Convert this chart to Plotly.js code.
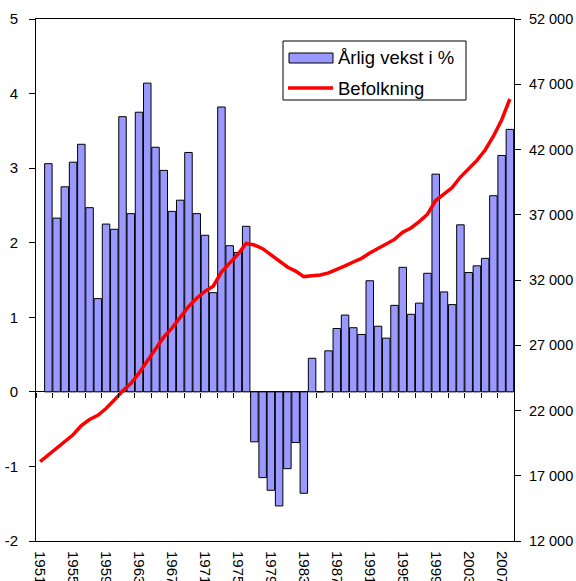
<!DOCTYPE html>
<html>
<head>
<meta charset="utf-8">
<script src="https://cdn.plot.ly/plotly-3.0.1.min.js"></script>
<style>html,body{margin:0;padding:0;background:#fff;}#chart{width:576px;height:581px;}</style>
</head>
<body>
<div id="chart"></div>
<script>
const years = ['1951','1952','1953','1954','1955','1956','1957','1958','1959','1960',
  '1961','1962','1963','1964','1965','1966','1967','1968','1969','1970',
  '1971','1972','1973','1974','1975','1976','1977','1978','1979','1980',
  '1981','1982','1983','1984','1985','1986','1987','1988','1989','1990',
  '1991','1992','1993','1994','1995','1996','1997','1998','1999','2000',
  '2001','2002','2003','2004','2005','2006','2007','2008'];

const growthPct = [null, 3.06, 2.33, 2.75, 3.08, 3.32, 2.47, 1.25, 2.25, 2.18,
  3.69, 2.39, 3.75, 4.14, 3.28, 2.97, 2.42, 2.57, 3.21, 2.39,
  2.10, 1.33, 3.82, 1.96, 1.87, 2.22, -0.67, -1.15, -1.32, -1.53,
  -1.03, -0.68, -1.36, 0.45, 0, 0.55, 0.85, 1.03, 0.86, 0.77,
  1.49, 0.88, 0.72, 1.16, 1.67, 1.04, 1.19, 1.59, 2.92, 1.34,
  1.17, 2.24, 1.60, 1.69, 1.79, 2.63, 3.17, 3.52];

const population = [18090, 18610, 19100, 19570, 20140, 20850, 21310, 21630, 22150, 22800,
  23490, 24070, 24860, 25790, 26740, 27620, 28310, 29100, 29960, 30600,
  31130, 31530, 32610, 33290, 33970, 34800, 34680, 34400, 33930, 33420,
  33000, 32680, 32260, 32320, 32380, 32540, 32790, 33090, 33380, 33660,
  34070, 34430, 34740, 35110, 35660, 35990, 36470, 37040, 38090, 38620,
  39080, 39890, 40510, 41160, 41960, 43020, 44260, 45870];

const xTickYears = ['1951','1955','1959','1963','1967','1971','1975','1979','1983','1987','1991','1995','1999','2003','2007'];
const leftTicks = [-2, -1, 0, 1, 2, 3, 4, 5];
const leftTickText = ['-2', '-1', '0', '1', '2', '3', '4', '5'];
const rightTicks = [12000, 17000, 22000, 27000, 32000, 37000, 42000, 47000, 52000];
const rightTickText = ['12 000', '17 000', '22 000', '27 000', '32 000', '37 000', '42 000', '47 000', '52 000'];
const seriesNames = ['Årlig vekst i %', 'Befolkning'];

const FONT = 'Liberation Sans, Arial, Helvetica, sans-serif';
const W = 576, H = 581, L = 36, R = 62, T = 19, B = 40;
const pw = W - L - R, ph = H - T - B;
const px = x => (x - L) / pw;
const py = y => (H - B - y) / ph;

const traces = [
  {
    type: 'bar', x: years, y: growthPct, name: seriesNames[0],
    xaxis: 'x', yaxis: 'y',
    marker: {color: '#9999FF', line: {color: '#000000', width: 1}},
    hoverinfo: 'x+y', showlegend: false
  },
  {
    type: 'scatter', mode: 'lines', x: years, y: population, name: seriesNames[1],
    xaxis: 'x2', yaxis: 'y2',
    line: {color: '#FF0000', width: 3.5},
    hoverinfo: 'x+y', showlegend: false
  }
];

const layout = {
  width: W, height: H,
  margin: {l: L, r: R, t: T, b: B, pad: 0},
  paper_bgcolor: '#ffffff', plot_bgcolor: '#ffffff',
  font: {family: FONT, size: 15, color: '#000000'},
  separators: ', ',
  showlegend: false,
  bargap: 0.09,
  xaxis: {
    type: 'category', range: [-0.5, 57.5], fixedrange: true,
    tickmode: 'array', tickvals: xTickYears, ticktext: xTickYears,
    tickangle: 90, ticks: '', ticklabelstandoff: 6,
    tickfont: {family: FONT, size: 15, color: '#000'},
    showgrid: false, zeroline: false,
    showline: true, mirror: true, linecolor: '#000', linewidth: 1
  },
  xaxis2: {
    type: 'category', range: [-0.5, 57.5], overlaying: 'x',
    anchor: 'free', position: 2 / 7,
    tickson: 'boundaries', ticks: 'outside', ticklen: 5, tickwidth: 1, tickcolor: '#000',
    showticklabels: false, showgrid: false, zeroline: false, showline: false
  },
  yaxis: {
    range: [-2, 5], fixedrange: true,
    tickmode: 'array', tickvals: leftTicks, ticktext: leftTickText,
    ticks: 'outside', ticklen: 6, tickwidth: 1, tickcolor: '#000',
    ticklabelstandoff: 8,
    tickfont: {family: FONT, size: 15, color: '#000'},
    showgrid: false,
    zeroline: true, zerolinecolor: '#000', zerolinewidth: 1,
    showline: true, linecolor: '#000', linewidth: 1
  },
  yaxis2: {
    range: [12000, 52000], overlaying: 'y', side: 'right', anchor: 'x',
    tickmode: 'array', tickvals: rightTicks, ticktext: rightTickText,
    ticks: 'outside', ticklen: 6, tickwidth: 1, tickcolor: '#000',
    ticklabelstandoff: 5,
    tickfont: {family: FONT, size: 14.5, color: '#000'},
    showgrid: false, zeroline: false,
    showline: true, linecolor: '#000', linewidth: 1
  },
  shapes: [
    {type: 'rect', xref: 'paper', yref: 'paper', x0: px(283), x1: px(466), y0: py(100), y1: py(41),
      fillcolor: '#ffffff', line: {color: '#000', width: 1}, layer: 'above'},
    {type: 'rect', xref: 'paper', yref: 'paper', x0: px(289), x1: px(333), y0: py(63), y1: py(53),
      fillcolor: '#9999FF', line: {color: '#000', width: 1}, layer: 'above'},
    {type: 'line', xref: 'paper', yref: 'paper', x0: px(288), x1: px(333), y0: py(88), y1: py(88),
      line: {color: '#FF0000', width: 3.5}, layer: 'above'}
  ],
  annotations: [
    {xref: 'paper', yref: 'paper', x: px(336), y: py(58), xanchor: 'left', yanchor: 'middle',
      text: seriesNames[0], showarrow: false, font: {family: FONT, size: 18.5, color: '#000'}},
    {xref: 'paper', yref: 'paper', x: px(336), y: py(88), xanchor: 'left', yanchor: 'middle',
      text: seriesNames[1], showarrow: false, font: {family: FONT, size: 18.5, color: '#000'}}
  ]
};

Plotly.newPlot('chart', traces, layout, {staticPlot: true, displayModeBar: false});
</script>
</body>
</html>
